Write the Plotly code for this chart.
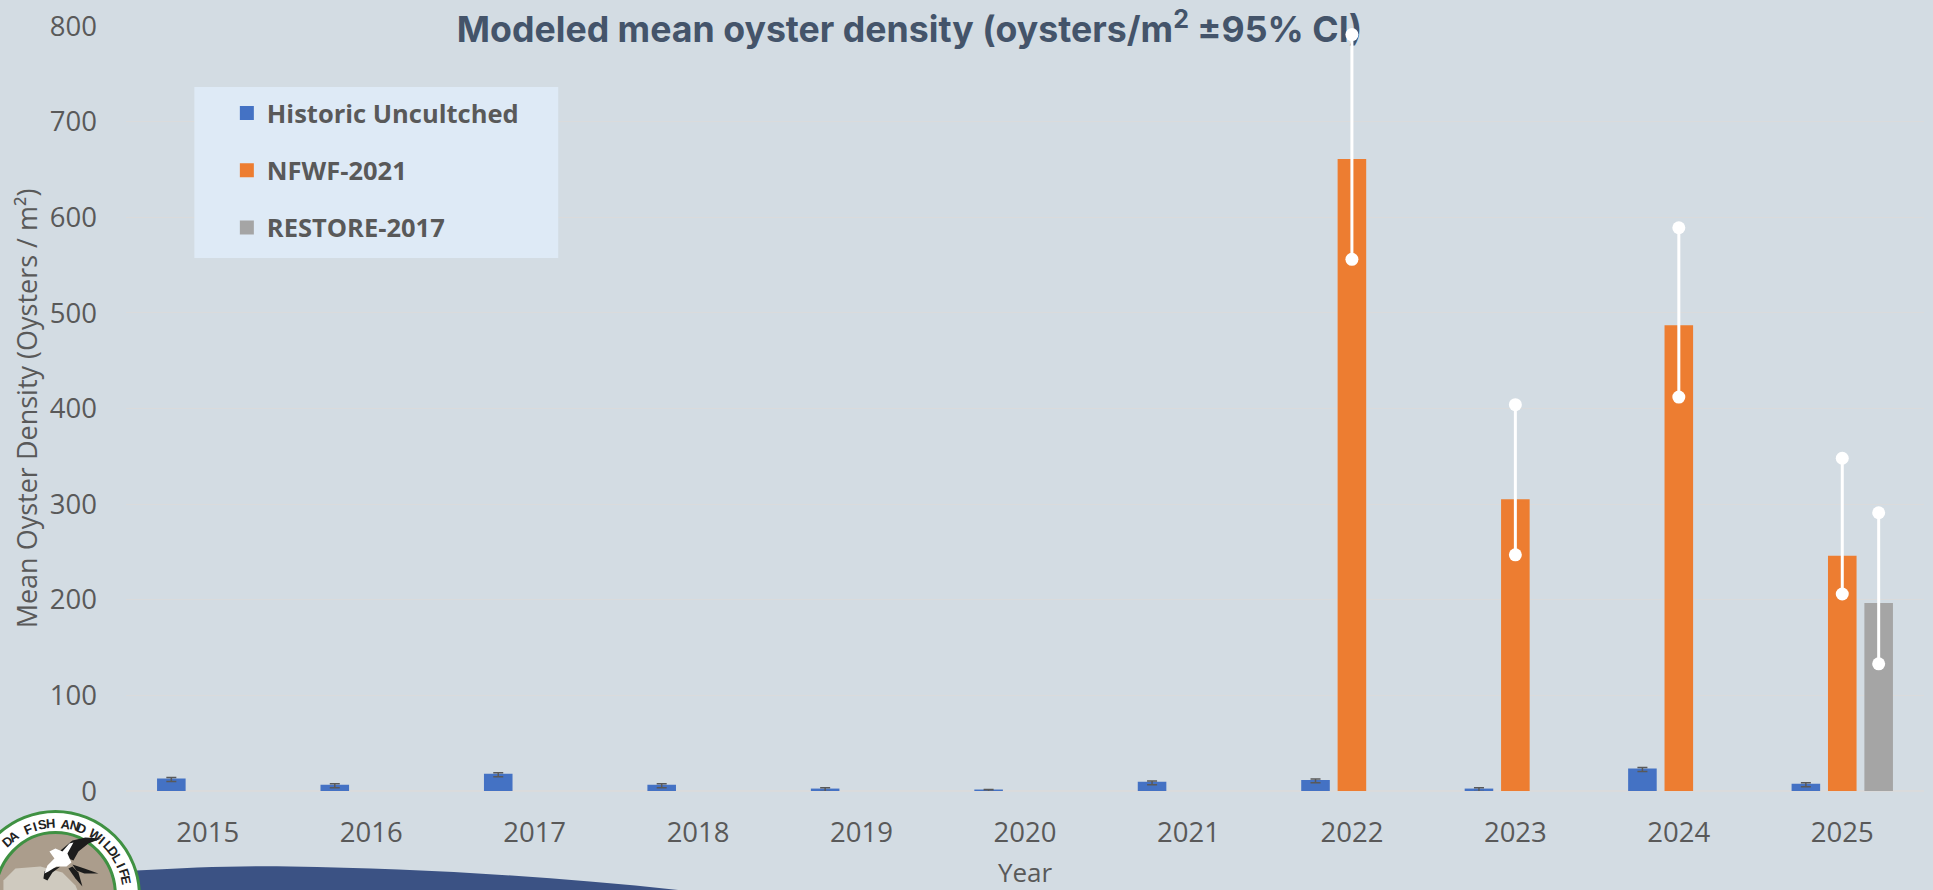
import math
import plotly.graph_objects as go

W, H = 1933, 890
PL, PR, PT, PB = 125.6, 1924.4, 26.0, 790.6

years = [2015, 2016, 2017, 2018, 2019, 2020, 2021, 2022, 2023, 2024, 2025]
historic = [12, 5.5, 17, 5.5, 1.5, 0.5, 8.5, 10.5, 1.5, 22.5, 6.5]
historic_err = [2, 2, 2, 2, 2, 1, 2, 2, 2, 2, 2]
nfwf = [None, None, None, None, None, None, None, 660, 304, 486, 245]
nfwf_low = [None, None, None, None, None, None, None, 556, 247, 412, 206]
nfwf_high = [None, None, None, None, None, None, None, 791, 404, 589, 348]
restore = [None, None, None, None, None, None, None, None, None, None, 195.5]
restore_low = [None, None, None, None, None, None, None, None, None, None, 133]
restore_high = [None, None, None, None, None, None, None, None, None, None, 291]

BG = "#d3dce3"
TXT = "#595959"
BARGAP = 0.332
GROUPGAP = 0.27
STEP = (1 - BARGAP) / 3


def px(x):
    return (x - PL) / (PR - PL)


def py(y):
    return 1 - (y - PT) / (PB - PT)


def ci_trace(xs, low, high):
    cx, cy = [], []
    for x, a, b in zip(xs, low, high):
        if a is None:
            continue
        cx += [x, x, None]
        cy += [a, b, None]
    return go.Scatter(x=cx, y=cy, mode="lines+markers", showlegend=False, hoverinfo="skip",
                      cliponaxis=False,
                      line=dict(color="#ffffff", width=3),
                      marker=dict(color="#ffffff", size=13, line=dict(width=0)))


def bar(name, vals, color, err=None):
    kw = {}
    if err:
        kw["error_y"] = dict(type="data", array=err, visible=True, color="#595959", thickness=1.5, width=5)
    return go.Bar(x=years, y=vals, name=name, legendgroup=name,
                  marker=dict(color=color, line=dict(color=color, width=2)), **kw)


fig = go.Figure()
fig.add_trace(bar("Historic Uncultched", historic, "#4472c4", historic_err))
fig.add_trace(bar("NFWF-2021", nfwf, "#ed7d31"))
fig.add_trace(bar("RESTORE-2017", restore, "#a5a5a5"))
fig.add_trace(ci_trace(years, nfwf_low, nfwf_high))
fig.add_trace(ci_trace([y + STEP for y in years], restore_low, restore_high))


# ---- decorative layer: legend panel, wave and agency seal ----
def path(points, close=True):
    d = "M " + " L ".join(f"{px(x):.5f},{py(y):.5f}" for x, y in points)
    return d + (" Z" if close else "")


def ellipse(cx, cy, rx, ry, fill, line=None, lw=0):
    return dict(type="circle", xref="paper", yref="paper", x0=px(cx - rx), x1=px(cx + rx),
                y0=py(cy - ry), y1=py(cy + ry), fillcolor=fill,
                line=dict(color=line or fill, width=lw), layer="above")


def poly(points, fill):
    return dict(type="path", xref="paper", yref="paper", path=path(points), fillcolor=fill,
                line=dict(width=0), layer="above")


wave = ("M {},{} L {},{} C {},{} {},{} {},{} C {},{} {},{} {},{} L {},{} Z").format(
    px(136), py(900), px(136), py(870), px(190), py(867), px(240), py(865), px(290), py(866),
    px(420), py(868), px(560), py(876), px(700), py(892), px(700), py(900))

shapes = [
    dict(type="rect", xref="paper", yref="paper", x0=px(194), x1=px(558), y0=py(258), y1=py(87),
         fillcolor="#deeaf6", line=dict(width=0), layer="above"),
    dict(type="path", xref="paper", yref="paper", path=wave, fillcolor="#3b5284",
         line=dict(width=0), layer="above"),
    ellipse(55, 895, 84, 84, "#ffffff", "#3f9142", 3),
    ellipse(55, 895, 60, 63, "#ab9d8c", "#3f9142", 3),
    poly([(3, 880), (15, 868), (40, 866), (62, 872), (75, 885), (78, 892), (3, 892)], "#cfcabf"),
    # kite: wings, tail and body
    poly([(60, 850), (72, 840), (85, 837), (101, 838), (88, 843), (78, 851), (73, 860), (68, 858)], "#1c1c1c"),
    poly([(72, 864), (84, 868), (98, 873), (84, 873), (76, 870)], "#1c1c1c"),
    poly([(72, 866), (78, 872), (82, 886), (75, 878), (68, 868)], "#1c1c1c"),
    poly([(50, 868), (60, 866), (52, 872), (47, 880), (43, 878), (44, 871)], "#1c1c1c"),
    poly([(49, 851), (55, 848), (62, 851), (69, 843), (73, 842), (67, 853), (71, 862), (66, 866),
          (56, 866), (48, 871), (44, 873), (47, 865), (54, 858)], "#ffffff"),
]

seal_text = "FLORIDA FISH AND WILDLIFE"
annotations = []
for i, ch in enumerate(seal_text):
    ang = math.radians(78 - (len(seal_text) - 1 - i) * 6.3)
    lx = 55 + 72 * math.sin(ang)
    if ch == " " or lx < 5:
        continue
    annotations.append(dict(text=f"<b>{ch}</b>", xref="paper", yref="paper", x=px(lx),
                            y=py(895 - 72 * math.cos(ang)), xanchor="center", yanchor="middle",
                            showarrow=False, textangle=math.degrees(ang),
                            font=dict(family="Liberation Sans", size=13, color="#222222")))

fig.update_layout(
    width=W, height=H, autosize=False,
    margin=dict(l=PL, r=W - PR, t=PT, b=H - PB, autoexpand=False),
    paper_bgcolor=BG, plot_bgcolor=BG,
    barmode="group", bargap=BARGAP, bargroupgap=GROUPGAP,
    title=dict(text="Modeled mean oyster density (oysters/m<sup>2</sup> ±95% CI)",
               x=909.5 / W, xanchor="center", yref="container", y=1 - 30 / H, yanchor="middle",
               font=dict(family="Inter", size=35.7, color="#44546a", weight=700)),
    xaxis=dict(range=[2014.5, 2025.5], tickmode="array", tickvals=years, ticktext=[str(y) for y in years],
               showgrid=False, zeroline=False, showline=False, ticks="", ticklabelstandoff=22,
               tickfont=dict(family="Open Sans", size=27.5, color=TXT),
               title=dict(text="Year", standoff=21, font=dict(family="Open Sans", size=26, color=TXT))),
    yaxis=dict(range=[0, 800], tickmode="array", tickvals=list(range(0, 801, 100)),
               showgrid=True, gridcolor="#dadbdc", gridwidth=1, zeroline=True, zerolinecolor="#dadbdc",
               showline=False, ticks="", ticklabelstandoff=28,
               tickfont=dict(family="Open Sans", size=27.5, color=TXT),
               title=dict(text="Mean Oyster Density (Oysters / m²)", standoff=4,
                          font=dict(family="Open Sans", size=27, color=TXT))),
    legend=dict(x=px(226.5), xanchor="left", y=py(90), yanchor="top", bgcolor="rgba(0,0,0,0)",
                traceorder="grouped", tracegroupgap=21,
                font=dict(family="Open Sans", size=25.5, color=TXT, weight=700)),
    shapes=shapes, annotations=annotations,
)

post = """
document.documentElement.style.margin='0';document.body.style.margin='0';
function moveTitle(){
  var t=document.querySelector('.g-gtitle'),c=document.querySelector('.cartesianlayer');
  if(t&&c&&t.nextSibling!==c){c.parentNode.insertBefore(t,c);}
}
moveTitle();
var gd=document.querySelector('.plotly-graph-div');
if(gd&&gd.on){gd.on('plotly_afterplot',moveTitle);}
setTimeout(moveTitle,100);setTimeout(moveTitle,500);
"""
fig.write_html("out.html", config={"displayModeBar": False}, post_script=post)
